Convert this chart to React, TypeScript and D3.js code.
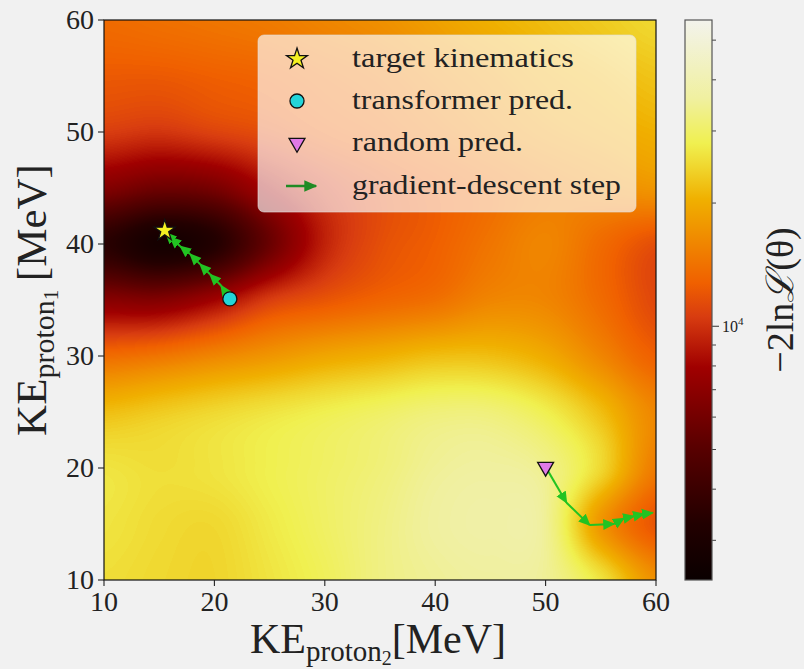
import React, { useRef, useEffect } from "react";
import * as d3 from "d3";

// Grid of the likelihood surface
const keProton2 = [10, 15, 20, 25, 30, 35, 40, 45, 50, 55, 60]; // x axis, MeV
const keProton1 = [60, 55, 50, 45, 40, 35, 30, 25, 20, 15, 10]; // y axis, MeV (top row first)

// -2 ln L(theta), rows follow keProton1, columns follow keProton2
const nll = [
  [13600, 14000, 14400, 14900, 15900, 16900, 18600, 20400, 21800, 23200, 24700],
  [12300, 12300, 12700, 13100, 14000, 14900, 16400, 18000, 19800, 21100, 22500],
  [10600, 10200, 10900, 11600, 12700, 13600, 14900, 16400, 18000, 19200, 20400],
  [6580, 5800, 6170, 8200, 10200, 11600, 12700, 14000, 15400, 16400, 17500],
  [3500, 2810, 3290, 5620, 9300, 11600, 12700, 14400, 15900, 13600, 11600],
  [6790, 6580, 7940, 10600, 12000, 13100, 14000, 15900, 15900, 13600, 11200],
  [13600, 14400, 15900, 17500, 19200, 20400, 21800, 21800, 19800, 15900, 12700],
  [21800, 23200, 24700, 26300, 28000, 29800, 31800, 31800, 28000, 21800, 15900],
  [26300, 25500, 26300, 28000, 29800, 31800, 34900, 36000, 33800, 24700, 14900],
  [26300, 25100, 24700, 27100, 29800, 32800, 36000, 37200, 34900, 17500, 12000],
  [25500, 24700, 24300, 26300, 28900, 32800, 34900, 36000, 34900, 26300, 16900],
];

// markers [KE_proton2, KE_proton1]
const targetKinematics = [15.5, 41.2];
const transformerPred = [21.4, 35.1];
const randomPred = [50.0, 20.1];

// gradient-descent trajectories
const stepsFromTransformer = [
  [21.4, 35.1], [20.6, 36.3], [19.6, 37.3], [18.7, 38.2],
  [17.8, 39.1], [16.9, 39.8], [16.0, 40.6], [15.6, 41.0],
];
const stepsFromRandom = [
  [50.0, 20.1], [51.9, 16.9], [54.0, 14.9], [56.2, 15.0],
  [57.1, 15.5], [58.0, 15.7], [58.9, 15.9], [59.7, 16.0],
];

const xTicks = [10, 20, 30, 40, 50, 60];
const yTicks = [10, 20, 30, 40, 50, 60];
const cbarDomain = [2400, 56000];
const cbarMajor = [10000];
const cbarMinor = [3000, 4000, 5000, 6000, 7000, 8000, 9000, 20000, 30000, 40000, 50000];

const legendLabels = ["target kinematics", "transformer pred.", "random pred.", "gradient-descent step"];
const legendWidths = [222, 221, 171, 269];

// colormap (hot-like), positions along the colorbar
const cmapPos = [0, 0.1, 0.24, 0.38, 0.47, 0.53, 0.62, 0.68, 0.74, 0.78, 0.86, 1];
const cmapColors = ["#0a0000", "#220000", "#5a0000", "#a00000", "#d83c10", "#f06000",
  "#f09000", "#f0b000", "#f0d830", "#f0f050", "#f0f0a0", "#f3f3ec"];

const FONT = "Liberation Serif, Times New Roman, DejaVu Serif, serif";

const Chart = () => {
  const svgRef = useRef<SVGSVGElement>(null);

  useEffect(() => {
    const W = 804;
    const H = 669;
    const dims = { left: 104, top: 20, width: 552, height: 560, cbarX: 685, cbarW: 27 };

    const svg = d3.select(svgRef.current).attr("width", W).attr("height", H);
    svg.selectAll("*").remove();

    svg.append("rect").attr("width", W).attr("height", H).attr("fill", "#f1f1f1");

    // Scales
    const xScale = d3.scaleLinear().domain([10, 60]).range([dims.left, dims.left + dims.width]);
    const yScale = d3.scaleLinear().domain([10, 60]).range([dims.top + dims.height, dims.top]);
    const cScale = d3.scaleLog().domain(cbarDomain).range([0, 1]).clamp(true);
    const cmap = d3.scaleLinear<string>().domain(cmapPos).range(cmapColors).interpolate(d3.interpolateRgb);
    const lut = d3.range(256).map((i) => d3.rgb(cmap(i / 255)));

    // Heatmap (bicubic smoothing of the grid, like imshow interpolation)
    const nRows = keProton1.length;
    const nCols = keProton2.length;
    const logGrid = nll.map((r) => r.map((v) => Math.log10(v)));
    const at = (r: number, c: number) =>
      logGrid[Math.min(nRows - 1, Math.max(0, r))][Math.min(nCols - 1, Math.max(0, c))];
    const cr = (p0: number, p1: number, p2: number, p3: number, t: number) =>
      0.5 * (2 * p1 + (-p0 + p2) * t + (2 * p0 - 5 * p1 + 4 * p2 - p3) * t * t + (-p0 + 3 * p1 - 3 * p2 + p3) * t * t * t);
    const sample = (gx: number, gy: number) => {
      const c = Math.min(nCols - 2, Math.floor(gx));
      const r = Math.min(nRows - 2, Math.floor(gy));
      const tx = gx - c;
      const ty = gy - r;
      const rows = [-1, 0, 1, 2].map((dr) => cr(at(r + dr, c - 1), at(r + dr, c), at(r + dr, c + 1), at(r + dr, c + 2), tx));
      return cr(rows[0], rows[1], rows[2], rows[3], ty);
    };
    const colIdx = d3.scaleLinear().domain(d3.extent(keProton2) as [number, number]).range([0, nCols - 1]);
    const rowIdx = d3.scaleLinear().domain([60, 10]).range([0, nRows - 1]);

    const canvas = document.createElement("canvas");
    canvas.width = dims.width;
    canvas.height = dims.height;
    const ctx = canvas.getContext("2d")!;
    const img = ctx.createImageData(dims.width, dims.height);
    for (let py = 0; py < dims.height; py++) {
      const gy = rowIdx(yScale.invert(dims.top + py + 0.5));
      for (let px = 0; px < dims.width; px++) {
        const gx = colIdx(xScale.invert(dims.left + px + 0.5));
        const t = cScale(Math.pow(10, sample(gx, gy)));
        const col = lut[Math.round(t * 255)];
        const k = (py * dims.width + px) * 4;
        img.data[k] = col.r;
        img.data[k + 1] = col.g;
        img.data[k + 2] = col.b;
        img.data[k + 3] = 255;
      }
    }
    ctx.putImageData(img, 0, 0);

    svg.append("image")
      .attr("x", dims.left)
      .attr("y", dims.top)
      .attr("width", dims.width)
      .attr("height", dims.height)
      .attr("preserveAspectRatio", "none")
      .attr("href", canvas.toDataURL());

    // defs: arrowheads + colorbar gradient
    const defs = svg.append("defs");
    const addArrow = (id: string, color: string, size: number) => {
      defs.append("marker")
        .attr("id", id)
        .attr("viewBox", "0 0 10 10")
        .attr("refX", 9)
        .attr("refY", 5)
        .attr("markerUnits", "userSpaceOnUse")
        .attr("markerWidth", size)
        .attr("markerHeight", size)
        .attr("orient", "auto")
        .append("path")
        .attr("d", "M0,0.5 L10,5 L0,9.5 Z")
        .attr("fill", color);
    };
    addArrow("gd-head", "#22c322", 12);
    addArrow("gd-head-legend", "#1f8b24", 13);

    const grad = defs.append("linearGradient")
      .attr("id", "cbar-grad")
      .attr("x1", 0).attr("y1", 1).attr("x2", 0).attr("y2", 0);
    cmapPos.forEach((p, i) => {
      grad.append("stop").attr("offset", p).attr("stop-color", cmapColors[i]);
    });

    // Gradient-descent steps
    const drawSteps = (pts: number[][]) => {
      for (let i = 0; i < pts.length - 1; i++) {
        svg.append("line")
          .attr("x1", xScale(pts[i][0]))
          .attr("y1", yScale(pts[i][1]))
          .attr("x2", xScale(pts[i + 1][0]))
          .attr("y2", yScale(pts[i + 1][1]))
          .attr("stroke", "#22c322")
          .attr("stroke-width", 2)
          .attr("marker-end", "url(#gd-head)");
      }
    };
    drawSteps(stepsFromTransformer);
    drawSteps(stepsFromRandom);

    // Markers
    const star = d3.symbol().type(d3.symbolStar).size(135);
    const circle = d3.symbol().type(d3.symbolCircle).size(155);
    const tri = d3.symbol().type(d3.symbolTriangle).size(110);

    const drawMarker = (p: number[], path: string, fill: string, rot = 0) =>
      svg.append("path")
        .attr("d", path)
        .attr("transform", `translate(${xScale(p[0])},${yScale(p[1])}) rotate(${rot})`)
        .attr("fill", fill)
        .attr("stroke", "#111")
        .attr("stroke-width", 1.3);

    drawMarker(transformerPred, circle()!, "#23d4d9");
    drawMarker(randomPred, tri()!, "#e07ae6", 180);
    drawMarker(targetKinematics, star()!, "#f4f022");

    // Frame
    svg.append("rect")
      .attr("x", dims.left)
      .attr("y", dims.top)
      .attr("width", dims.width)
      .attr("height", dims.height)
      .attr("fill", "none")
      .attr("stroke", "#111")
      .attr("stroke-width", 1.2);

    // Axes ticks
    const axisG = svg.append("g").attr("font-family", FONT).attr("fill", "#222");
    xTicks.forEach((v) => {
      axisG.append("line")
        .attr("x1", xScale(v)).attr("x2", xScale(v))
        .attr("y1", dims.top + dims.height).attr("y2", dims.top + dims.height + 6)
        .attr("stroke", "#222").attr("stroke-width", 1.1);
      axisG.append("text")
        .attr("x", xScale(v)).attr("y", dims.top + dims.height + 31)
        .attr("text-anchor", "middle").attr("font-size", 28)
        .text(v);
    });
    yTicks.forEach((v) => {
      axisG.append("line")
        .attr("x1", dims.left - 6).attr("x2", dims.left)
        .attr("y1", yScale(v)).attr("y2", yScale(v))
        .attr("stroke", "#222").attr("stroke-width", 1.1);
      axisG.append("text")
        .attr("x", dims.left - 10).attr("y", yScale(v) + 9)
        .attr("text-anchor", "end").attr("font-size", 28)
        .text(v);
    });

    // Axis labels
    const xLab = axisG.append("text")
      .attr("x", dims.left + dims.width / 2 - 2)
      .attr("y", 653)
      .attr("text-anchor", "middle")
      .attr("font-size", 42);
    xLab.append("tspan").text("KE");
    xLab.append("tspan").attr("font-size", 29).attr("dy", 8).text("proton");
    xLab.append("tspan").attr("font-size", 20).attr("dy", 4).text("2");
    xLab.append("tspan").attr("font-size", 42).attr("dy", -12).text("[MeV]");

    const yLab = axisG.append("text")
      .attr("transform", `translate(46,${dims.top + dims.height / 2}) rotate(-90)`)
      .attr("text-anchor", "middle")
      .attr("font-size", 43);
    yLab.append("tspan").text("KE");
    yLab.append("tspan").attr("font-size", 30).attr("dy", 8).text("proton");
    yLab.append("tspan").attr("font-size", 21).attr("dy", 4).text("1");
    yLab.append("tspan").attr("font-size", 43).attr("dy", -12).text("\u2009[MeV]");

    // Colorbar
    const cbY = d3.scaleLog().domain(cbarDomain).range([dims.top + dims.height, dims.top]);
    svg.append("rect")
      .attr("x", dims.cbarX)
      .attr("y", dims.top)
      .attr("width", dims.cbarW)
      .attr("height", dims.height)
      .attr("fill", "url(#cbar-grad)")
      .attr("stroke", "#555")
      .attr("stroke-width", 1.2);
    const cbRight = dims.cbarX + dims.cbarW;
    cbarMinor.forEach((v) => {
      axisG.append("line")
        .attr("x1", cbRight).attr("x2", cbRight + 4)
        .attr("y1", cbY(v)).attr("y2", cbY(v))
        .attr("stroke", "#444").attr("stroke-width", 1);
    });
    cbarMajor.forEach((v) => {
      axisG.append("line")
        .attr("x1", cbRight).attr("x2", cbRight + 7)
        .attr("y1", cbY(v)).attr("y2", cbY(v))
        .attr("stroke", "#444").attr("stroke-width", 1.1);
      const lab = axisG.append("text")
        .attr("x", cbRight + 10).attr("y", cbY(v) + 6)
        .attr("font-size", 16);
      lab.append("tspan").text("10");
      lab.append("tspan").attr("font-size", 11).attr("dy", -7).text(String(Math.round(Math.log10(v))));
    });

    const cLab = axisG.append("text")
      .attr("transform", `translate(793,${dims.top + dims.height / 2}) rotate(-90)`)
      .attr("text-anchor", "middle")
      .attr("font-size", 38);
    cLab.append("tspan").text("\u22122ln");
    cLab.append("tspan").attr("font-style", "italic").text("\u2112");
    cLab.append("tspan").text("(\u03b8)");

    // Legend
    const lg = svg.append("g").attr("font-family", FONT);
    lg.append("rect")
      .attr("x", 258).attr("y", 35)
      .attr("width", 378).attr("height", 177)
      .attr("rx", 6)
      .attr("fill", "#ffffff")
      .attr("fill-opacity", 0.66)
      .attr("stroke", "#dddddd")
      .attr("stroke-opacity", 0.6);
    const rowY = [59, 101, 143, 186];
    const mx = 297;
    lg.append("path").attr("d", star()!).attr("transform", `translate(${mx},${rowY[0]})`)
      .attr("fill", "#f4f022").attr("stroke", "#111").attr("stroke-width", 1.3);
    lg.append("path").attr("d", circle()!).attr("transform", `translate(${mx},${rowY[1]})`)
      .attr("fill", "#23d4d9").attr("stroke", "#111").attr("stroke-width", 1.3);
    lg.append("path").attr("d", tri()!).attr("transform", `translate(${mx},${rowY[2]}) rotate(180)`)
      .attr("fill", "#e07ae6").attr("stroke", "#111").attr("stroke-width", 1.3);
    lg.append("line")
      .attr("x1", mx - 11).attr("x2", mx + 19)
      .attr("y1", rowY[3]).attr("y2", rowY[3])
      .attr("stroke", "#1f8b24").attr("stroke-width", 2.5)
      .attr("marker-end", "url(#gd-head-legend)");
    legendLabels.forEach((t, i) => {
      lg.append("text")
        .attr("x", 352).attr("y", rowY[i] + 8)
        .attr("font-size", 28)
        .attr("textLength", legendWidths[i])
        .attr("lengthAdjust", "spacingAndGlyphs")
        .attr("fill", "#222")
        .text(t);
    });
  }, []);

  return <svg ref={svgRef} />;
};

const App = () => {
  return (
    <div style={{ position: "absolute", left: 0, top: 0, lineHeight: 0 }}>
      <Chart />
    </div>
  );
};

export default App;
